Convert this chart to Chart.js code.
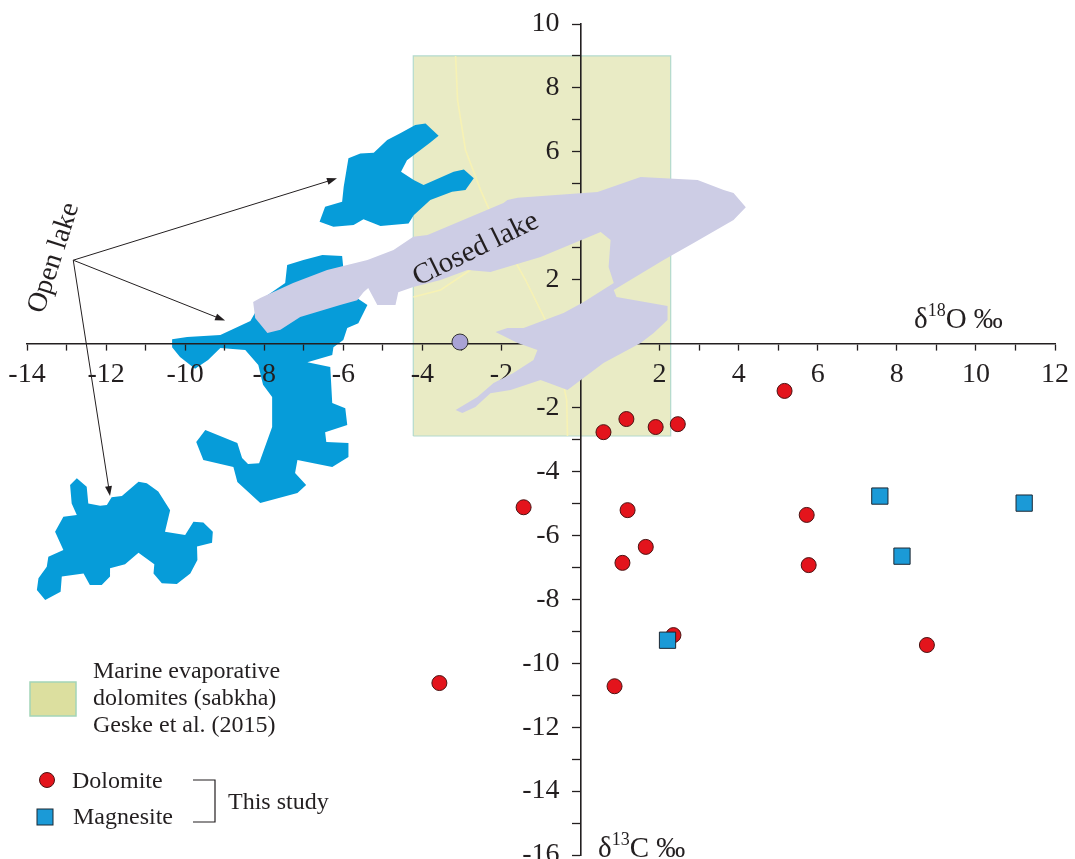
<!DOCTYPE html>
<html>
<head>
<meta charset="utf-8">
<title>d18O vs d13C</title>
<script src="https://cdn.jsdelivr.net/npm/chart.js@4.4.1/dist/chart.umd.min.js"></script>
<style>
  html, body { margin: 0; padding: 0; background: #fff; overflow: hidden; }
  #wrap { position: relative; width: 1075px; height: 859px; overflow: hidden; }
  /* canvases are a bit larger than the page so the axis labels at the ends don't squeeze the plot */
  #wrap canvas { position: absolute; left: -20px; top: -20px; }
</style>
</head>
<body>
<div id="wrap">
  <canvas id="underChart" width="1115" height="920"></canvas>
  <canvas id="isoChart" width="1115" height="920"></canvas>
</div>
<script>
// ---- data (δ18O ‰ , δ13C ‰) ----
// this study
const dolomiteO = [0.58, 1.16, 1.90, 2.46, 5.16, -1.44, 1.19, 1.65, 1.06, 5.72, 5.77, 2.35, -3.57, 0.86, 8.76];
const dolomiteC = [-2.77, -2.36, -2.61, -2.52, -1.48, -5.12, -5.21, -6.36, -6.86, -5.36, -6.93, -9.12, -10.62, -10.72, -9.43];
const magnesiteO = [7.57, 11.22, 8.13, 2.20];
const magnesiteC = [-4.77, -4.99, -6.65, -9.28];
const referenceO = [-3.05];
const referenceC = [0.05];

// marine evaporative dolomites (sabkha), Geske et al. (2015): O range, C range
const sabkhaO = [-4.23, 2.28];
const sabkhaC = [-2.89, 9.0];

// faint contour lines inside the sabkha field
const sabkhaArcA = [[-3.16, 9.0], [-3.11, 7.62], [-2.91, 6.06], [-2.53, 4.81], [-2.03, 3.40], [-1.39, 1.99],
  [-0.89, 0.74], [-0.51, -0.83], [-0.35, -1.77], [-0.33, -2.89]];
const sabkhaArcB = [[-4.23, 1.46], [-3.54, 1.68], [-2.86, 2.24], [-2.3, 2.7]];

// open lake fields
const openLakeNorth = [[-4.18, 6.84], [-3.92, 6.89], [-3.59, 6.50], [-3.80, 6.29], [-4.39, 5.74], [-4.54, 5.38],
  [-4.22, 5.12], [-3.97, 4.96], [-3.21, 5.38], [-2.95, 5.45], [-2.70, 5.17], [-2.91, 4.81], [-3.25, 4.75],
  [-3.80, 4.49], [-4.22, 4.02], [-4.35, 3.76], [-5.06, 3.68], [-5.49, 3.89], [-5.74, 3.71], [-6.25, 3.66],
  [-6.60, 3.81], [-6.46, 4.28], [-6.03, 4.44], [-5.99, 4.91], [-5.87, 5.80], [-5.57, 5.95], [-5.23, 5.97],
  [-4.89, 6.37], [-4.56, 6.58]];
const openLakeCentral = [[-10.33, 0.14], [-9.95, 0.21], [-9.11, 0.27], [-8.35, 0.71], [-8.02, 1.43], [-7.47, 1.90],
  [-7.42, 2.46], [-7.01, 2.62], [-6.53, 2.77], [-6.03, 2.74], [-6.00, 2.37], [-6.33, 1.99], [-5.57, 1.36],
  [-5.39, 1.21], [-5.62, 0.64], [-5.90, 0.49], [-6.00, 0.11], [-6.25, -0.11], [-6.28, -0.36], [-6.91, -0.58],
  [-6.33, -0.73], [-6.28, -1.86], [-5.95, -2.02], [-5.90, -2.55], [-6.46, -2.77], [-6.43, -3.08], [-5.87, -3.11],
  [-5.87, -3.55], [-6.28, -3.86], [-7.16, -3.64], [-7.22, -4.05], [-6.94, -4.42], [-7.16, -4.67], [-8.10, -4.99],
  [-8.68, -4.33], [-8.78, -3.86], [-9.54, -3.64], [-9.72, -3.08], [-9.49, -2.70], [-8.68, -3.11], [-8.56, -3.58],
  [-8.41, -3.77], [-8.13, -3.74], [-7.80, -2.61], [-7.80, -1.67], [-8.03, -1.29], [-8.15, -0.67], [-8.48, -0.20],
  [-9.11, -0.14], [-9.42, -0.51], [-9.75, -0.79], [-10.13, -0.42], [-10.33, -0.11]];
const openLakeSouth = [[-12.74, -4.21], [-12.49, -4.48], [-12.45, -5.00], [-12.15, -5.07], [-11.98, -5.05],
  [-11.86, -4.81], [-11.60, -4.77], [-11.18, -4.32], [-10.97, -4.37], [-10.68, -4.63], [-10.38, -5.21],
  [-10.51, -5.89], [-10.00, -5.99], [-9.79, -5.57], [-9.54, -5.60], [-9.30, -5.89], [-9.32, -6.23], [-9.70, -6.35],
  [-9.69, -6.77], [-9.87, -7.19], [-10.21, -7.52], [-10.59, -7.50], [-10.80, -7.19], [-10.78, -6.90],
  [-11.18, -6.54], [-11.52, -6.90], [-11.90, -7.03], [-11.90, -7.29], [-12.11, -7.55], [-12.41, -7.55],
  [-12.57, -7.19], [-13.12, -7.29], [-13.15, -7.76], [-13.54, -8.02], [-13.75, -7.71], [-13.71, -7.34],
  [-13.50, -6.98], [-13.46, -6.67], [-13.08, -6.46], [-13.29, -5.89], [-13.08, -5.42], [-12.74, -5.36],
  [-12.87, -5.00], [-12.91, -4.42]];

// closed lake field
const closedLake = [[-8.28, 1.30], [-8.10, 1.43], [-7.27, 1.90], [-6.41, 2.30], [-5.39, 2.62], [-4.73, 2.93],
  [-4.23, 3.34], [-3.87, 3.40], [-1.95, 4.40], [-1.85, 4.49], [-1.59, 4.56], [0.43, 4.74], [1.52, 5.21],
  [2.96, 5.12], [3.62, 4.81], [3.87, 4.71], [4.18, 4.27], [3.87, 3.87], [2.86, 3.15], [2.10, 2.62], [0.84, 1.68],
  [0.91, 1.46], [2.20, 1.18], [2.20, 0.74], [1.85, 0.33], [1.52, 0.02], [0.58, -0.61], [-0.33, -1.45],
  [-1.01, -1.14], [-1.77, -1.45], [-2.28, -1.55], [-2.66, -1.98], [-2.99, -2.17], [-3.16, -2.08], [-2.61, -1.67],
  [-2.20, -1.23], [-1.70, -0.92], [-1.19, -0.51], [-1.09, -0.20], [-1.59, 0.02], [-2.15, 0.36], [-1.85, 0.49],
  [-1.44, 0.49], [-0.43, 0.96], [0.08, 1.30], [0.84, 1.90], [0.71, 2.40], [0.76, 3.24], [0.51, 3.49],
  [-1.01, 2.71], [-2.28, 2.24], [-2.86, 2.30], [-3.54, 1.99], [-4.23, 1.77], [-4.61, 1.61], [-4.68, 1.21],
  [-5.14, 1.21], [-5.37, 1.74], [-5.49, 1.61], [-5.65, 1.36], [-6.08, 1.21], [-7.09, 0.83], [-7.59, 0.43],
  [-7.92, 0.33], [-8.23, 0.80]];

// "Open lake" arrows: start and the three tips
const arrowFrom = [-12.83, 2.61];
const arrowTips = [[-6.16, 5.17], [-8.99, 0.72], [-11.90, -4.77]];

const xTicks = [-14, -12, -10, -8, -6, -4, -2, 2, 4, 6, 8, 10, 12];
const yTicks = [-16, -14, -12, -10, -8, -6, -4, -2, 2, 4, 6, 8, 10];

// ---- helpers ----
const ink = '#231f20';
const OFF = 20; // canvas offset from the page
const toPoints = list => list.map(p => ({ x: p[0], y: p[1] }));
const zip = (xs, ys) => xs.map((v, i) => ({ x: v, y: ys[i] }));
const sabkhaBox = [[sabkhaO[0], sabkhaC[0]], [sabkhaO[0], sabkhaC[1]], [sabkhaO[1], sabkhaC[1]],
  [sabkhaO[1], sabkhaC[0]], [sabkhaO[0], sabkhaC[0]]];

Chart.defaults.font.family = '"Liberation Serif", "Times New Roman", serif';
Chart.defaults.color = ink;

const layoutPad = { left: 27 + OFF, right: 20 + 20, top: 24 + OFF, bottom: 45 };

function polygon(list, color, order) {
  return { data: toPoints(list), showLine: true, fill: 'shape', backgroundColor: color,
    borderWidth: 0, pointRadius: 0, order: order };
}

// ---- lower layer: sabkha box and open lake fields (sit under the axes) ----
new Chart(document.getElementById('underChart'), {
  type: 'scatter',
  data: {
    datasets: [
      { data: toPoints(sabkhaBox), showLine: true, fill: 'shape', backgroundColor: '#e9ebc5',
        borderColor: '#b3dacd', borderWidth: 1.2, pointRadius: 0, order: 5 },
      { data: toPoints(sabkhaArcA), showLine: true, borderColor: '#f7f2b4', borderWidth: 1.6, pointRadius: 0, order: 4 },
      { data: toPoints(sabkhaArcB), showLine: true, borderColor: '#f7f2b4', borderWidth: 1.6, pointRadius: 0, order: 4 },
      polygon(openLakeNorth, '#069cd9', 1),
      polygon(openLakeCentral, '#069cd9', 1),
      polygon(openLakeSouth, '#069cd9', 1)
    ]
  },
  options: {
    responsive: false,
    animation: false,
    events: [],
    layout: { padding: layoutPad },
    scales: {
      x: { type: 'linear', min: -14, max: 12, display: false },
      y: { type: 'linear', min: -16, max: 10, display: false }
    },
    plugins: { legend: { display: false }, tooltip: { enabled: false } }
  }
});

// ---- annotations: texts, arrows and legend ----
function arrow(ctx, x0, y0, x1, y1) {
  const a = Math.atan2(y1 - y0, x1 - x0);
  const c = Math.cos(a), s = Math.sin(a);
  ctx.beginPath();
  ctx.moveTo(x0, y0);
  ctx.lineTo(x1 - 6 * c, y1 - 6 * s);
  ctx.stroke();
  ctx.beginPath();
  ctx.moveTo(x1, y1);
  ctx.lineTo(x1 - 10 * c + 3.5 * s, y1 - 10 * s - 3.5 * c);
  ctx.lineTo(x1 - 10 * c - 3.5 * s, y1 - 10 * s + 3.5 * c);
  ctx.closePath();
  ctx.fill();
}

function isoTitle(ctx, x, base, mass, element) {
  ctx.textAlign = 'left';
  ctx.textBaseline = 'alphabetic';
  ctx.font = '29px "Liberation Serif"';
  ctx.fillText('δ', x, base);
  x += ctx.measureText('δ').width;
  ctx.font = '18px "Liberation Serif"';
  ctx.fillText(mass, x, base - 12);
  x += ctx.measureText(mass).width;
  ctx.font = '29px "Liberation Serif"';
  ctx.fillText(element + ' ‰', x, base);
}

function rotatedText(ctx, text, cx, cy, deg, size) {
  ctx.save();
  ctx.translate(cx, cy);
  ctx.rotate(deg * Math.PI / 180);
  ctx.font = size + 'px "Liberation Serif"';
  ctx.textAlign = 'center';
  ctx.textBaseline = 'middle';
  ctx.fillText(text, 0, 0);
  ctx.restore();
}

const annotations = {
  id: 'annotations',
  afterDraw(chart) {
    const { ctx } = chart;
    const sx = chart.scales.x, sy = chart.scales.y;
    ctx.save();
    ctx.fillStyle = ink;
    ctx.strokeStyle = ink;
    ctx.lineWidth = 1;

    // arrows from the "Open lake" label
    const fx = sx.getPixelForValue(arrowFrom[0]), fy = sy.getPixelForValue(arrowFrom[1]);
    arrowTips.forEach(t => arrow(ctx, fx, fy, sx.getPixelForValue(t[0]), sy.getPixelForValue(t[1])));

    rotatedText(ctx, 'Closed lake', sx.getPixelForValue(-2.65), sy.getPixelForValue(2.95), -26, 29);

    ctx.translate(OFF, OFF);
    rotatedText(ctx, 'Open lake', 54, 258, -72, 28);

    isoTitle(ctx, 914, 328, '18', 'O');
    isoTitle(ctx, 598, 857, '13', 'C');

    // legend
    ctx.fillStyle = '#dcdf9f';
    ctx.fillRect(30, 682, 46, 34);
    ctx.strokeStyle = '#a3d5b8';
    ctx.lineWidth = 1.5;
    ctx.strokeRect(30, 682, 46, 34);

    ctx.fillStyle = ink;
    ctx.font = '24px "Liberation Serif"';
    ctx.textAlign = 'left';
    ctx.textBaseline = 'alphabetic';
    ctx.fillText('Marine evaporative', 93, 678);
    ctx.fillText('dolomites (sabkha)', 93, 705);
    ctx.fillText('Geske et al. (2015)', 93, 732);
    ctx.fillText('Dolomite', 72, 788);
    ctx.fillText('Magnesite', 73, 824);
    ctx.fillText('This study', 228, 809);

    ctx.beginPath();
    ctx.arc(47, 780, 7.5, 0, Math.PI * 2);
    ctx.fillStyle = '#e3141c';
    ctx.fill();
    ctx.strokeStyle = '#4a1212';
    ctx.lineWidth = 1;
    ctx.stroke();

    ctx.fillStyle = '#1b9ad7';
    ctx.fillRect(37, 809, 16, 16);
    ctx.strokeStyle = '#1d2833';
    ctx.strokeRect(37, 809, 16, 16);

    ctx.strokeStyle = ink;
    ctx.lineWidth = 1.2;
    ctx.beginPath();
    ctx.moveTo(193, 780);
    ctx.lineTo(215, 780);
    ctx.lineTo(215, 822);
    ctx.lineTo(193, 822);
    ctx.stroke();

    ctx.restore();
  }
};

// ---- upper layer: axes, closed lake field and samples ----
// y labels sit right-aligned on the axis line, trailing spaces push them off the tick marks
const xLabel = v => (xTicks.includes(v) ? String(v) : '');
const yLabel = v => (yTicks.includes(v) ? v + '   ' : '');

new Chart(document.getElementById('isoChart'), {
  type: 'scatter',
  data: {
    datasets: [
      polygon(closedLake, '#cdcde5', 3),
      { label: 'Dolomite', data: zip(dolomiteO, dolomiteC), pointStyle: 'circle', pointRadius: 7.5,
        backgroundColor: '#e3141c', borderColor: '#4a1212', borderWidth: 1, order: 1 },
      { label: 'Magnesite', data: zip(magnesiteO, magnesiteC), pointStyle: 'rect', pointRadius: 11.5,
        backgroundColor: '#1b9ad7', borderColor: '#1d2833', borderWidth: 1, order: 0 },
      { label: 'Reference', data: zip(referenceO, referenceC), pointStyle: 'circle', pointRadius: 8,
        backgroundColor: '#a9a3d5', borderColor: '#333', borderWidth: 1, order: 0 }
    ]
  },
  options: {
    responsive: false,
    animation: false,
    events: [],
    layout: { padding: layoutPad },
    scales: {
      x: {
        type: 'linear', min: -14, max: 12, position: { y: 0 },
        ticks: { stepSize: 1, autoSkip: false, maxRotation: 0, padding: 8,
          font: { size: 28 }, color: ink, callback: xLabel },
        grid: { drawOnChartArea: false, drawTicks: true, tickLength: 6, tickColor: ink, tickWidth: 1.3 },
        border: { color: ink, width: 1.6 }
      },
      y: {
        type: 'linear', min: -16, max: 10, position: { x: 0 },
        ticks: { stepSize: 1, autoSkip: false, padding: 9,
          font: { size: 28 }, color: ink, callback: yLabel },
        grid: { drawOnChartArea: false, drawTicks: true, tickLength: 8, tickColor: ink, tickWidth: 1.3 },
        border: { color: ink, width: 1.6 }
      }
    },
    plugins: { legend: { display: false }, tooltip: { enabled: false } }
  },
  plugins: [annotations]
});
</script>
</body>
</html>
